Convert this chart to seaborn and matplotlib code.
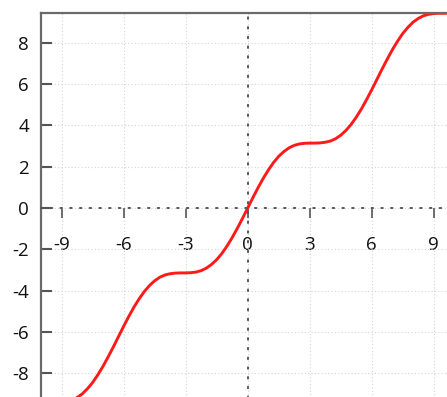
import numpy as np
import pandas as pd
import matplotlib
matplotlib.use("Agg")
import matplotlib.pyplot as plt
import seaborn as sns

# x positions (step 0.25) and curve values
x_pos = [0.0, 0.25, 0.5, 0.75, 1.0, 1.25, 1.5, 1.75, 2.0, 2.25, 2.5, 2.75,
         3.0, 3.25, 3.5, 3.75, 4.0, 4.25, 4.5, 4.75, 5.0, 5.25, 5.5, 5.75,
         6.0, 6.25, 6.5, 6.75, 7.0, 7.25, 7.5, 7.75, 8.0, 8.25, 8.5, 8.75,
         9.0, 9.25, 9.5, 9.75, 10.0]
y_pos = [0.0, 0.50, 0.98, 1.43, 1.84, 2.20, 2.50, 2.73, 2.91, 3.03, 3.10, 3.13,
         3.14, 3.14, 3.15, 3.18, 3.24, 3.35, 3.52, 3.75, 4.04, 4.39, 4.79, 5.24,
         5.72, 6.22, 6.72, 7.20, 7.66, 8.07, 8.44, 8.74, 8.99, 9.17, 9.30, 9.37,
         9.41, 9.42, 9.42, 9.43, 9.46]
# negative side (curve is symmetric through the origin)
x_neg = [-10.0, -9.75, -9.5, -9.25, -9.0, -8.75, -8.5, -8.25, -8.0, -7.75,
         -7.5, -7.25, -7.0, -6.75, -6.5, -6.25, -6.0, -5.75, -5.5, -5.25,
         -5.0, -4.75, -4.5, -4.25, -4.0, -3.75, -3.5, -3.25, -3.0, -2.75,
         -2.5, -2.25, -2.0, -1.75, -1.5, -1.25, -1.0, -0.75, -0.5, -0.25]
y_neg = [-9.46, -9.43, -9.42, -9.42, -9.41, -9.37, -9.30, -9.17, -8.99, -8.74,
         -8.44, -8.07, -7.66, -7.20, -6.72, -6.22, -5.72, -5.24, -4.79, -4.39,
         -4.04, -3.75, -3.52, -3.35, -3.24, -3.18, -3.15, -3.14, -3.14, -3.13,
         -3.10, -3.03, -2.91, -2.73, -2.50, -2.20, -1.84, -1.43, -0.98, -0.50]

x_ticks = [-9, -6, -3, 0, 3, 6, 9]
y_ticks = [-8, -6, -4, -2, 0, 2, 4, 6, 8]
x_limits = (-10, 10)
y_limits = (-9.42, 9.42)

sns.set_style("white")
plt.rcParams['font.family'] = ['Open Sans', 'DejaVu Sans']
plt.rcParams['axes.unicode_minus'] = False

df = pd.DataFrame({"x": x_neg + x_pos, "y": y_neg + y_pos})

W, H = 447, 397
fig = plt.figure(figsize=(W / 100, H / 100), dpi=100)
left_px, top_px = 41, 13.3
width_px = 413.4
height_px = 389.4
ax = fig.add_axes([left_px / W, 1 - (top_px + height_px) / H, width_px / W, height_px / H])

sns.lineplot(data=df, x="x", y="y", color="#ff1a1a", linewidth=2.1, ax=ax, sort=True)

ax.set_xlim(*x_limits)
ax.set_ylim(*y_limits)
ax.set_xlabel("")
ax.set_ylabel("")

# grid
ax.set_xticks(x_ticks)
ax.set_yticks(y_ticks)
ax.grid(True, color="#d4d4d4", linestyle=(0, (1, 2)), linewidth=0.8)
ax.set_axisbelow(True)

# spines
ax.spines['right'].set_visible(False)
ax.spines['top'].set_color("#6a6a6a")
ax.spines['top'].set_linewidth(1.6)
ax.spines['left'].set_color("#6a6a6a")
ax.spines['left'].set_linewidth(1.6)
ax.spines['bottom'].set_position(('data', 0))
ax.spines['bottom'].set_color("#555555")
ax.spines['bottom'].set_linewidth(1.4)
ax.spines['bottom'].set_linestyle((0, (0.8, 4.2)))
ax.spines['bottom'].set_capstyle('round')
ax.axvline(0, color="#555555", linewidth=1.4, linestyle=(0, (0.8, 4.2)),
           dash_capstyle='round', zorder=1)

ax.tick_params(axis='x', bottom=True, direction='out', length=7, width=1.2, color="#555555",
               pad=13.5, labelsize=13.5, labelcolor="#111111")
ax.tick_params(axis='y', left=True, direction='in', length=8, width=1.5, color="#555555",
               pad=8.6, labelsize=13.5, labelcolor="#111111")
ax.set_xticklabels([str(v) for v in x_ticks])
ax.set_yticklabels([str(v) for v in y_ticks])

fig.savefig("out.png", dpi=100)
